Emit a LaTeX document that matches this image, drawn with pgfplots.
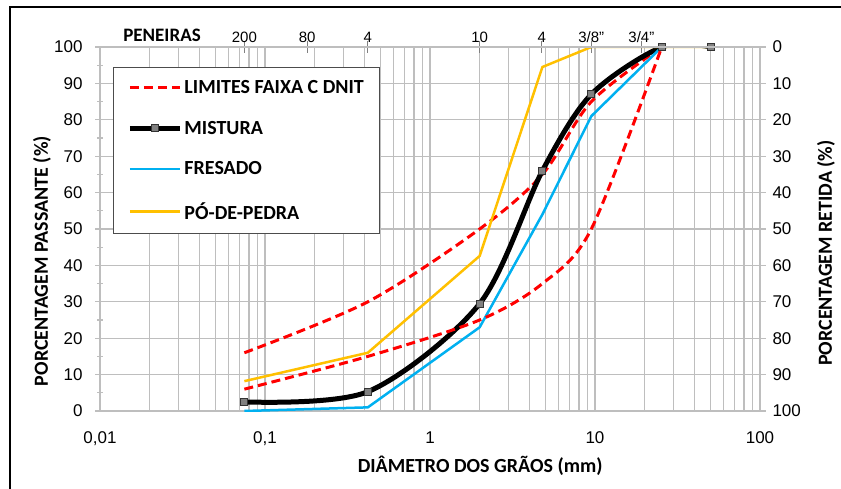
\documentclass[border=0pt]{standalone}
\usepackage{fontspec}
\setmainfont{Liberation Sans}
\newfontfamily\calib{Carlito}
\usepackage{pgfplots}
\pgfplotsset{compat=1.18}
\definecolor{myred}{RGB}{255,0,0}
\definecolor{myblue}{RGB}{0,176,240}
\definecolor{myyellow}{RGB}{255,192,0}
\definecolor{gridgray}{RGB}{190,190,190}
\begin{document}
\begin{tikzpicture}
\useasboundingbox (-100pt,-77pt) rectangle (741pt,411pt);
\fill[white] (-100pt,-77pt) rectangle (741pt,411pt);
\draw[line width=2pt] (-90pt,-80pt) -- (-90pt,404pt) -- (745pt,404pt);

\begin{axis}[
  scale only axis, width=660pt, height=364pt,
  xmode=log, xmin=0.01, xmax=100, ymin=0, ymax=100,
  /pgf/number format/assume math mode=true,
  axis line style={gridgray, line width=1.3pt},
  xtick={0.01,0.1,1,10,100},
  xticklabels={0{,}01,0{,}1,1,10,100},
  minor xtick={0.02,0.03,0.04,0.05,0.06,0.07,0.08,0.09,0.2,0.3,0.4,0.5,0.6,0.7,0.8,0.9,2,3,4,5,6,7,8,9,20,30,40,50,60,70,80,90},
  xmajorgrids, xminorgrids, ymajorgrids,
  major grid style={gridgray, line width=1.3pt},
  minor grid style={gridgray, line width=1.3pt},
  xtick style={draw=none},
  ytick={0,10,...,100},
  minor ytick={5,15,...,95},
  ytick pos=left,
  ytick style={gridgray, line width=1.3pt},
  major tick length=10pt, minor tick length=6pt,
  tick align=center,
  tick label style={font=\fontsize{17}{17}\selectfont},
  xticklabel style={yshift=-12pt},
  yticklabel style={xshift=-9pt},
  xlabel={DIÂMETRO DOS GRÃOS (mm)},
  xlabel style={at={(axis description cs:0.576,-0.151)}, anchor=center, font=\calib\bfseries\fontsize{20}{20}\selectfont},
  ylabel={PORCENTAGEM PASSANTE (\%)},
  ylabel style={at={(axis description cs:-0.088,0.412)}, anchor=center, font=\calib\bfseries\fontsize{20}{20}\selectfont},
  legend style={at={(axis description cs:0.0197,0.945)}, anchor=north west, draw=black!70, line width=1pt, fill=white,
    font=\calib\bfseries\fontsize{20}{20}\selectfont, inner xsep=14pt, inner ysep=11pt, row sep=22pt,
    nodes={inner xsep=2pt}},
  legend cell align=left,
  legend image code/.code={\draw[mark repeat=2, mark phase=2, #1] plot coordinates {(0pt,0pt) (25pt,0pt) (50pt,0pt)};},
]
\addplot[myred, line width=3pt, dash pattern=on 9pt off 5pt, smooth, tension=0.5]
  coordinates {(0.075,16) (0.42,30) (2,50) (4.8,65) (9.5,85) (25.4,100)};
\addlegendentry{LIMITES FAIXA C DNIT}
\addplot[black, line width=5pt, smooth, tension=0.5, mark=square*, mark size=3.5pt,
  mark options={fill=gray, draw=black!80, line width=1pt, solid}]
  coordinates {(0.075,2.5) (0.42,5.3) (2,29.5) (4.8,66) (9.5,87) (25.4,100) (50.8,100)};
\addlegendentry{MISTURA}
\addplot[myblue, line width=2.5pt]
  coordinates {(0.075,0) (0.42,1) (2,23) (4.8,54) (9.5,81) (25.4,100)};
\addlegendentry{FRESADO}
\addplot[myyellow, line width=2.5pt]
  coordinates {(0.075,8.2) (0.42,16) (2,42.6) (4.8,94.5) (9.5,100) (25.4,100) (50.8,100)};
\addlegendentry{PÓ-DE-PEDRA}
\addplot[myred, line width=3pt, dash pattern=on 9pt off 5pt, smooth, tension=0.5, forget plot]
  coordinates {(0.075,6) (0.42,15) (2,25) (4.8,35) (9.5,50) (25.4,100)};
\end{axis}

\begin{axis}[
  scale only axis, width=660pt, height=364pt,
  xmode=log, xmin=0.01, xmax=100, ymin=0, ymax=100,
  /pgf/number format/assume math mode=true,
  y dir=reverse, axis y line*=right, axis x line=none,
  axis line style={gridgray, line width=1.3pt},
  ytick={0,10,...,100},
  ytick style={gridgray, line width=1.3pt},
  major tick length=6pt, tick align=outside,
  tick label style={font=\fontsize{17}{17}\selectfont},
  yticklabel style={xshift=3pt},
  ylabel={PORCENTAGEM RETIDA (\%)},
  ylabel style={at={(axis description cs:1.10,0.434)}, anchor=center, rotate=0, font=\calib\bfseries\fontsize{20}{20}\selectfont},
]
\end{axis}

\begin{axis}[
  scale only axis, width=660pt, height=364pt,
  xmode=log, xmin=0.01, xmax=100, ymin=0, ymax=100,
  clip=false,
  axis x line*=top, axis y line=none,
  axis line style={gridgray, line width=1.3pt},
  xtick={0.075,0.18,0.42,2,4.76,9.5,19.1},
  xticklabels={200,80,4,10,4,3/8",3/4"},
  xtick style={gray, line width=1pt},
  minor x tick style={draw=none},
  major tick length=12pt, tick align=center,
  xticklabel style={font=\fontsize{15}{15}\selectfont, yshift=-5pt},
]
\node[font=\calib\bfseries\fontsize{19}{19}\selectfont] at (rel axis cs:0.094,1.033) {PENEIRAS};
\end{axis}
\end{tikzpicture}
\end{document}
